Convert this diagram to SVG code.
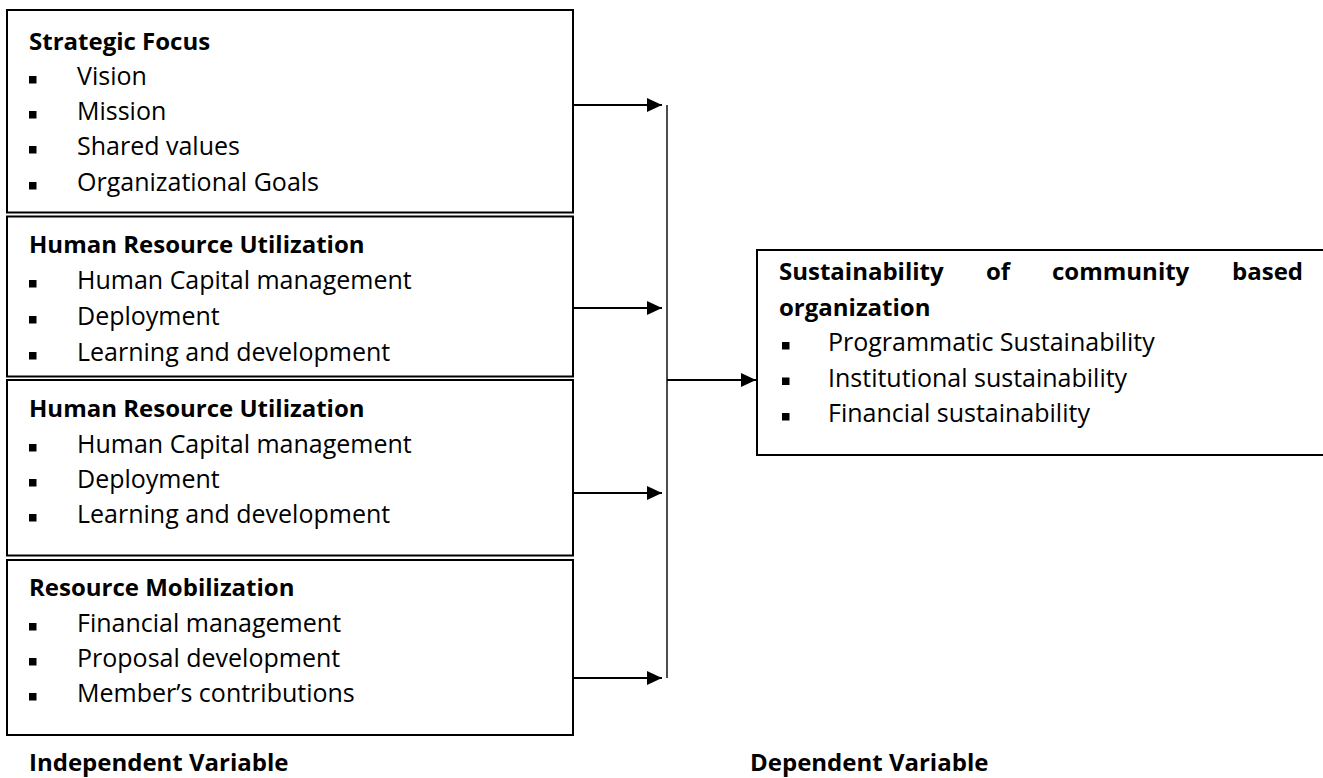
<svg xmlns="http://www.w3.org/2000/svg" width="1323" height="778" viewBox="0 0 1323 778">
<defs>
<style>
.t{font-family:"Open Sans","DejaVu Sans",sans-serif;font-size:25px;fill:#000}
.b{font-weight:bold;font-size:24px}
.box{fill:#fff;stroke:#000;stroke-width:2}
.bul{fill:#000}
.conn{stroke:#000;stroke-width:2;fill:none}
.vline{stroke:#000;stroke-width:1.4;fill:none}
</style>
<marker id="ah" markerUnits="userSpaceOnUse" markerWidth="16" markerHeight="14" refX="15" refY="7" orient="auto"><path d="M0,0 L15,7 L0,14 z" fill="#000"/></marker>
<clipPath id="c2"><rect x="7" y="217" width="566" height="150"/></clipPath>
</defs>
<rect width="1323" height="778" fill="#fff"/>

<g id="strategic-focus">
<rect class="box" x="7" y="10" width="566" height="202.5"/>
<text class="t b" x="29" y="50">Strategic Focus</text>
<rect class="bul" x="29" y="76" width="7.5" height="7.5"/><text class="t" x="77" y="85">Vision</text>
<rect class="bul" x="29" y="111" width="7.5" height="7.5"/><text class="t" x="77" y="120">Mission</text>
<rect class="bul" x="29" y="146" width="7.5" height="7.5"/><text class="t" x="77" y="155">Shared values</text>
<rect class="bul" x="29" y="182" width="7.5" height="7.5"/><text class="t" x="77" y="191">Organizational Goals</text>
</g>

<g id="hr-utilization-1">
<rect class="box" x="7" y="216.5" width="566" height="160"/>
<g clip-path="url(#c2)">
<text class="t b" x="29" y="253">Human Resource Utilization</text>
<rect class="bul" x="29" y="280" width="7.5" height="7.5"/><text class="t" x="77" y="289">Human Capital management</text>
<rect class="bul" x="29" y="316" width="7.5" height="7.5"/><text class="t" x="77" y="325">Deployment</text>
<rect class="bul" x="29" y="352" width="7.5" height="7.5"/><text class="t" x="77" y="361">Learning and development</text>
</g>
</g>

<g id="hr-utilization-2">
<rect class="box" x="7" y="380" width="566" height="175.5"/>
<text class="t b" x="29" y="417">Human Resource Utilization</text>
<rect class="bul" x="29" y="444" width="7.5" height="7.5"/><text class="t" x="77" y="453">Human Capital management</text>
<rect class="bul" x="29" y="479" width="7.5" height="7.5"/><text class="t" x="77" y="488">Deployment</text>
<rect class="bul" x="29" y="514" width="7.5" height="7.5"/><text class="t" x="77" y="523">Learning and development</text>
</g>

<g id="resource-mobilization">
<rect class="box" x="7" y="560" width="566" height="175"/>
<text class="t b" x="29" y="596">Resource Mobilization</text>
<rect class="bul" x="29" y="623" width="7.5" height="7.5"/><text class="t" x="77" y="632">Financial management</text>
<rect class="bul" x="29" y="658" width="7.5" height="7.5"/><text class="t" x="77" y="667">Proposal development</text>
<rect class="bul" x="29" y="693" width="7.5" height="7.5"/><text class="t" x="77" y="702">Member’s contributions</text>
</g>

<g id="sustainability">
<rect class="box" x="757" y="250" width="600" height="205"/>
<text class="t b" x="779" y="280">Sustainability</text>
<text class="t b" x="986" y="280">of</text>
<text class="t b" x="1052" y="280">community</text>
<text class="t b" x="1303" y="280" text-anchor="end">based</text>
<text class="t b" x="779" y="315.5">organization</text>
<rect class="bul" x="782" y="342" width="7.5" height="7.5"/><text class="t" x="828" y="351">Programmatic Sustainability</text>
<rect class="bul" x="782" y="377.5" width="7.5" height="7.5"/><text class="t" x="828" y="386.5">Institutional sustainability</text>
<rect class="bul" x="782" y="413" width="7.5" height="7.5"/><text class="t" x="828" y="422">Financial sustainability</text>
</g>

<g id="labels">
<text class="t b" x="29" y="771">Independent Variable</text>
<text class="t b" x="750" y="771">Dependent Variable</text>
</g>

<g id="connectors">
<line class="vline" x1="667" y1="105" x2="667" y2="678"/>
<line class="conn" x1="573" y1="105" x2="662" y2="105" marker-end="url(#ah)"/>
<line class="conn" x1="573" y1="308" x2="662" y2="308" marker-end="url(#ah)"/>
<line class="conn" x1="573" y1="493" x2="662" y2="493" marker-end="url(#ah)"/>
<line class="conn" x1="573" y1="678" x2="662" y2="678" marker-end="url(#ah)"/>
<line class="conn" x1="667" y1="380" x2="756" y2="380" marker-end="url(#ah)"/>
</g>
</svg>
